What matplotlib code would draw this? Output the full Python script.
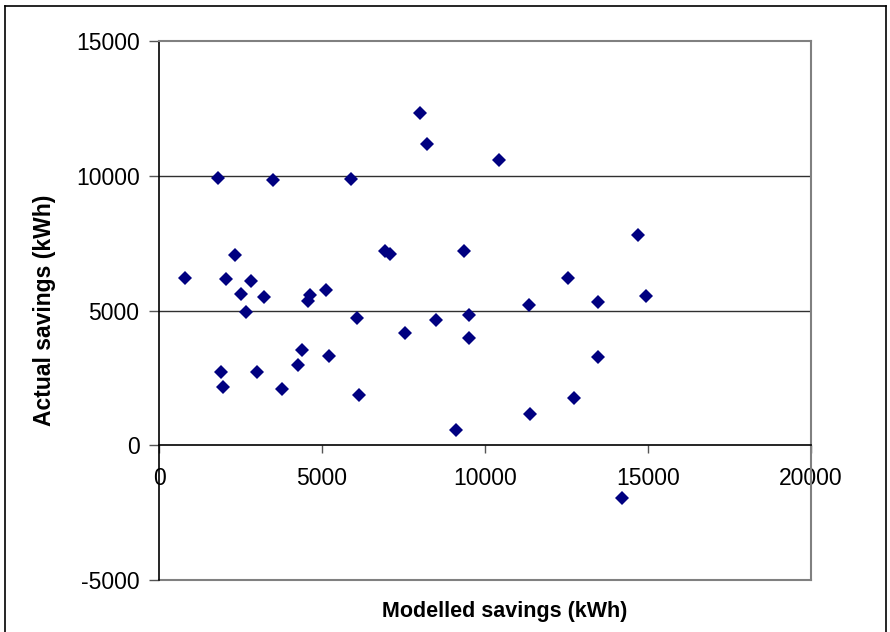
import matplotlib
matplotlib.use("Agg")
import matplotlib.pyplot as plt
from matplotlib.lines import Line2D

plt.rcParams['font.family'] = ['Liberation Sans', 'DejaVu Sans']

# Modelled vs. actual energy savings per dwelling (kWh)
modelled = [806, 1818, 1911, 1972, 2045, 2320, 2504, 2676, 2820, 2995,
            3219, 3504, 3781, 4251, 4384, 4568, 4620, 5120, 5202, 5895,
            6075, 6122, 6938, 7072, 7551, 8001, 8226, 8510, 9108, 9371,
            9513, 9513, 10432, 11352, 11395, 12538, 12722, 13480, 13480, 14194,
            14694, 14939]
actual = [6220, 9933, 2715, 2146, 6157, 7059, 5611, 4931, 6094, 2715,
          5488, 9833, 2097, 2988, 3532, 5366, 5563, 5774, 3323, 9870,
          4715, 1874, 7208, 7085, 4164, 12321, 11170, 4630, 549, 7208,
          4825, 3991, 10601, 5203, 1143, 6220, 1762, 5330, 3271, -1964,
          7817, 5551]

x_ticks = [0, 5000, 10000, 15000, 20000]
y_ticks = [-5000, 0, 5000, 10000, 15000]

W, H = 890, 632
fig = plt.figure(figsize=(W / 100, H / 100), dpi=100)
left, right, top, bottom = 159, 811, 41, 580
ax = fig.add_axes([left / W, 1 - bottom / H, (right - left) / W, (bottom - top) / H])

ax.plot(modelled, actual, linestyle='none', marker='D', markersize=7,
        color='#000080', markeredgewidth=0, zorder=5)

ax.set_xlim(0, 20000)
ax.set_ylim(-5000, 15000)
ax.set_xticks(x_ticks)
ax.set_yticks(y_ticks)
ax.set_xticklabels([str(v) for v in x_ticks])
ax.set_yticklabels([str(v) for v in y_ticks])

# horizontal gridlines
for v in y_ticks[2:4]:
    ax.axhline(v, color='#303030', linewidth=1.0, zorder=1)

# frame: black value axis, grey plot-area border
ax.spines['left'].set_color('black')
ax.spines['left'].set_linewidth(1.2)
ax.spines['bottom'].set_position(('data', 0))
ax.spines['bottom'].set_color('black')
ax.spines['bottom'].set_linewidth(1.2)
for s in ('top', 'right'):
    ax.spines[s].set_color('#808080')
    ax.spines[s].set_linewidth(1.5)
ax.axhline(-5000, color='#808080', linewidth=1.5, clip_on=False, zorder=2)

ax.tick_params(axis='x', direction='out', length=6, width=1, color='#555555',
               labelsize=16.5, pad=10)
ax.tick_params(axis='y', direction='out', length=7, width=1, color='#555555',
               labelsize=16.5, pad=7)

ax.set_xlabel('Modelled savings (kWh)', fontsize=15.5, fontweight='bold')
ax.xaxis.set_label_coords((505 - left) / (right - left), (bottom - 612) / (bottom - top))
ax.xaxis.label.set_va('center')
ax.set_ylabel('Actual savings (kWh)', fontsize=16.5, fontweight='bold')
ax.yaxis.set_label_coords((45 - left) / (right - left), (bottom - 310) / (bottom - top))
ax.yaxis.label.set_va('center')

# outer chart border
def px_line(x0, y0, x1, y1):
    fig.add_artist(Line2D([x0 / W, x1 / W], [1 - y0 / H, 1 - y1 / H],
                          transform=fig.transFigure, color='black', linewidth=1.2))

px_line(5, 6, 886, 6)
px_line(5, 6, 5, H + 5)
px_line(886, 6, 886, H + 5)

fig.savefig('out.png', dpi=100)
